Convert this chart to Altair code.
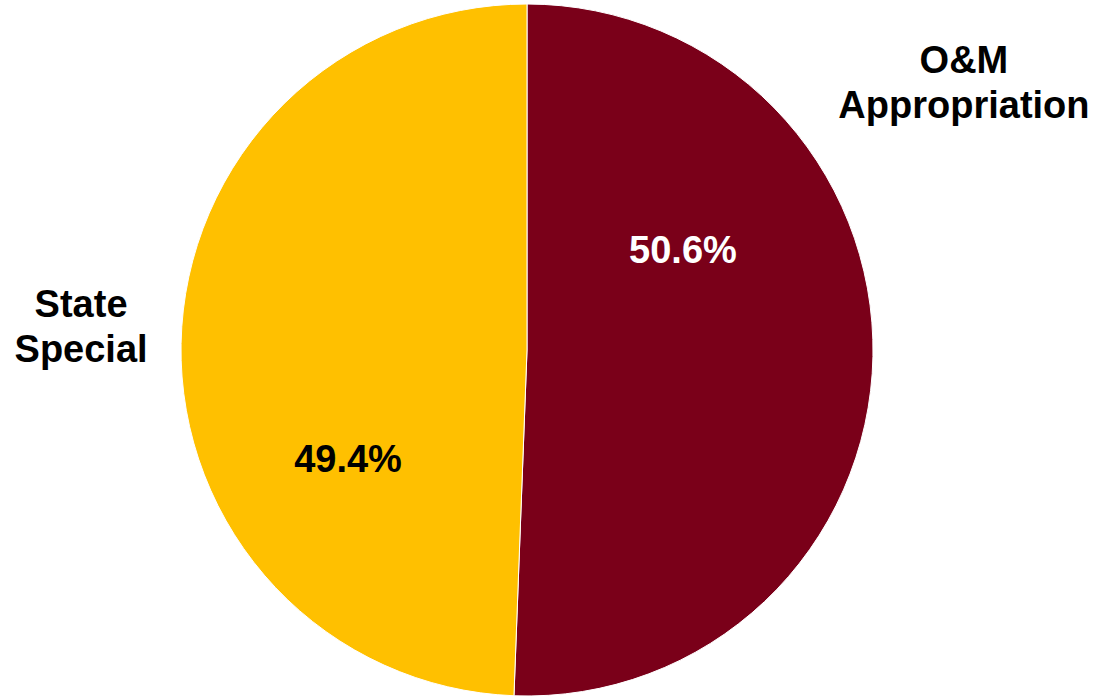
import altair as alt
import pandas as pd

categories = ["O&M Appropriation", "State Special"]
values = [50.6, 49.4]
colors = ["#7A0019", "#FFC000"]
pct_colors = ["white", "black"]

df = pd.DataFrame({
    "category": categories,
    "value": values,
    "order": list(range(len(categories))),
})

W, H = 1101, 697
CX, CY, R = 527, 350, 346
FONT = "Liberation Sans"

color = alt.Color("category:N", scale=alt.Scale(domain=categories, range=colors), legend=None)

pie = alt.Chart(df).mark_arc(outerRadius=R, stroke="white", strokeWidth=1).encode(
    theta=alt.Theta("value:Q", stack=True),
    order=alt.Order("order:Q"),
    color=color,
    x=alt.value(CX),
    y=alt.value(CY),
)

label_base = alt.Chart(df).transform_stack(
    stack="value", groupby=[], as_=["v0", "v1"],
    sort=[alt.SortField("order", order="ascending")],
).transform_calculate(
    mid="(datum.v0 + datum.v1) / 2",
    label="format(datum.value, '.1f') + '%'",
).encode(
    theta=alt.Theta("mid:Q", stack=None),
    x=alt.value(CX),
    y=alt.value(CY),
)

def pct_label(cat, fill, dx, dy):
    return label_base.transform_filter(alt.datum.category == cat).mark_text(
        radius=180, dx=dx, dy=dy, font=FONT, fontSize=38, fontWeight="bold",
        align="center", baseline="alphabetic", color=fill,
    ).encode(text="label:N")

def cat_label(cat, dx, dy):
    return label_base.transform_filter(alt.datum.category == cat).mark_text(
        radius=420, dx=dx, dy=dy, font=FONT, fontSize=38, fontWeight="bold",
        align="center", baseline="alphabetic", color="black",
        lineBreak=" ", lineHeight=45,
    ).encode(text="category:N")

chart = alt.layer(
    pie,
    pct_label(categories[0], pct_colors[0], -24, -90),
    pct_label(categories[1], pct_colors[1], 1, 125),
    cat_label(categories[0], 17, -285),
    cat_label(categories[1], -26, -25),
).properties(
    width=W, height=H, padding=0, autosize=alt.AutoSizeParams(type="none"),
    background="white",
).configure_view(stroke=None)

chart.save("out.html", embed_options={"renderer": "svg", "actions": False})
